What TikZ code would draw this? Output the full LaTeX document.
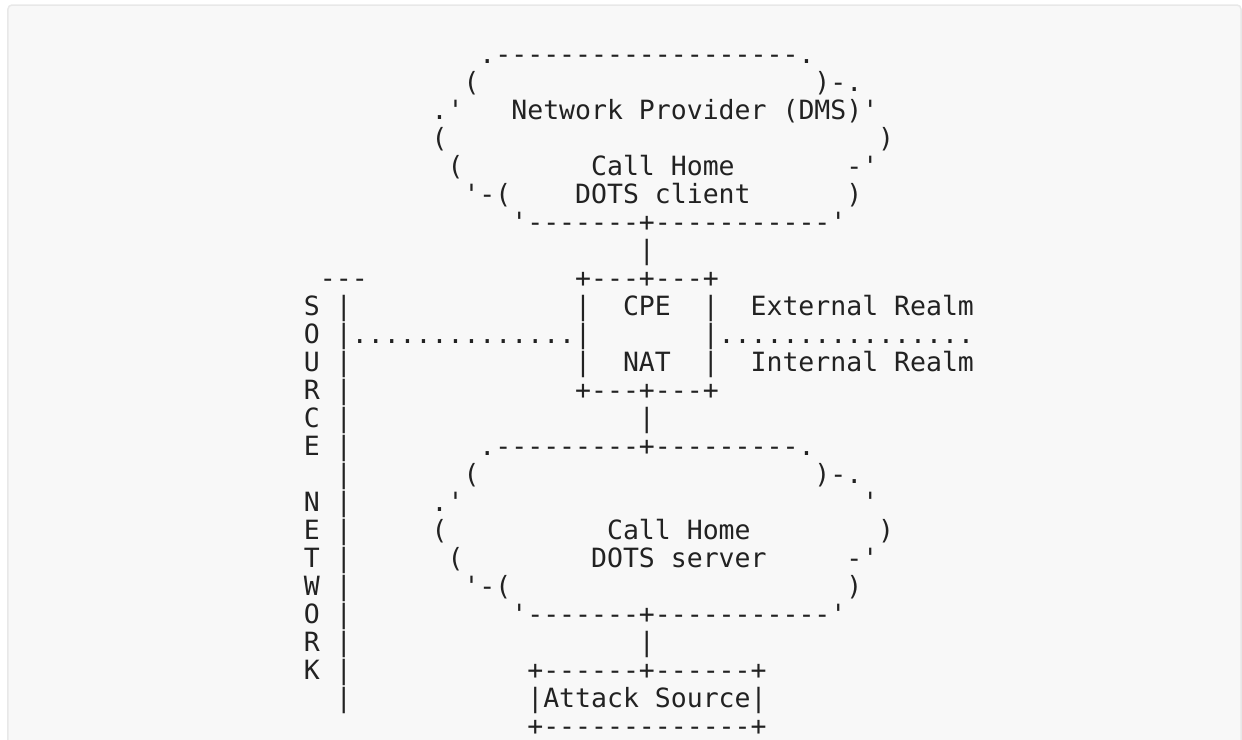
\documentclass[tikz,border=0pt]{standalone}
\usepackage{fontspec}
\setmonofont{DejaVu Sans Mono}
\usepackage{xcolor}
\definecolor{inkgray}{HTML}{222222}
\definecolor{boxfill}{HTML}{F8F8F8}
\definecolor{boxline}{HTML}{E8E8E8}
\frenchspacing
\tikzset{
  ascii/.style={anchor=base west, inner sep=0pt, outer sep=0pt, text=inkgray,
    font=\ttfamily\fontsize{26.5pt}{28pt}\selectfont},
}

\begin{document}
\begin{tikzpicture}[x=15.95pt, y=-28.04pt]
        % FRAME
        % -----------------
        \useasboundingbox (-304pt,34.96pt) rectangle (938pt,-704.04pt);
        \clip (-304pt,34.96pt) rectangle (938pt,-704.04pt);
        \filldraw[fill=boxfill, draw=boxline, line width=1.5pt, rounded corners=4pt]
          (-296pt,29.96pt) rectangle (937pt,-740pt);

        % NODES
        % -----------------

        % Provider cloud
        \node[ascii] (dms_top) at (11,1) {.-------------------.};
        \node[ascii] (dms_l2) at (10,2) {(};
        \node[ascii] (dms_r2) at (32,2) {)-.};
        \node[ascii] (dms_l3) at (8,3) {.'};
        \node[ascii] (dms) at (13,3) {Network Provider (DMS)'};
        \node[ascii] (dms_l4) at (8,4) {(};
        \node[ascii] (dms_r4) at (36,4) {)};
        \node[ascii] (dms_l5) at (9,5) {(};
        \node[ascii] (client_a) at (18,5) {Call Home};
        \node[ascii] (dms_r5) at (34,5) {-'};
        \node[ascii] (dms_l6) at (10,6) {'-(};
        \node[ascii] (client_b) at (17,6) {DOTS client};
        \node[ascii] (dms_r6) at (34,6) {)};
        \node[ascii] (dms_bot) at (13,7) {'-------+-----------'};
        \node[ascii] (link_up) at (21,8) {|};

        % CPE box
        \node[ascii] (cpe_top) at (17,9) {+---+---+};
        \node[ascii] (cpe) at (17,10) {|~~CPE~~|};
        \node[ascii] (cpe_mid) at (17,11) {|~~~~~~~|};
        \node[ascii] (nat) at (17,12) {|~~NAT~~|};
        \node[ascii] (cpe_bot) at (17,13) {+---+---+};
        \node[ascii] (ext) at (28,10) {External Realm};
        \node[ascii] (int) at (28,12) {Internal Realm};
        \node[ascii] (src_dots) at (3,11) {..............};
        \node[ascii] (realm_dots) at (26,11) {................};
        \node[ascii] (link_mid) at (21,14) {|};

        % Server cloud
        \node[ascii] (srv_top) at (11,15) {.---------+---------.};
        \node[ascii] (srv_l16) at (10,16) {(};
        \node[ascii] (srv_r16) at (32,16) {)-.};
        \node[ascii] (srv_l17) at (8,17) {.'};
        \node[ascii] (srv_r17) at (35,17) {'};
        \node[ascii] (srv_l18) at (8,18) {(};
        \node[ascii] (server_a) at (19,18) {Call Home};
        \node[ascii] (srv_r18) at (36,18) {)};
        \node[ascii] (srv_l19) at (9,19) {(};
        \node[ascii] (server_b) at (18,19) {DOTS server};
        \node[ascii] (srv_r19) at (34,19) {-'};
        \node[ascii] (srv_l20) at (10,20) {'-(};
        \node[ascii] (srv_r20) at (34,20) {)};
        \node[ascii] (srv_bot) at (13,21) {'-------+-----------'};
        \node[ascii] (link_down) at (21,22) {|};

        % Attack source
        \node[ascii] (att_top) at (14,23) {+------+------+};
        \node[ascii] (attack) at (14,24) {|Attack Source|};
        \node[ascii] (att_bot) at (14,25) {+-------------+};

        % Source network
        \node[ascii] (src_cap) at (1,9) {---};
        \foreach \ch [count=\r from 10] in {S,O,U,R,C,E,{},N,E,T,W,O,R,K}
          \node[ascii] (src_\r) at (0,\r) {\ch};
        \foreach \r in {10,...,24}
          \node[ascii] (wall_\r) at (2,\r) {|};

    \end{tikzpicture}
\end{document}
